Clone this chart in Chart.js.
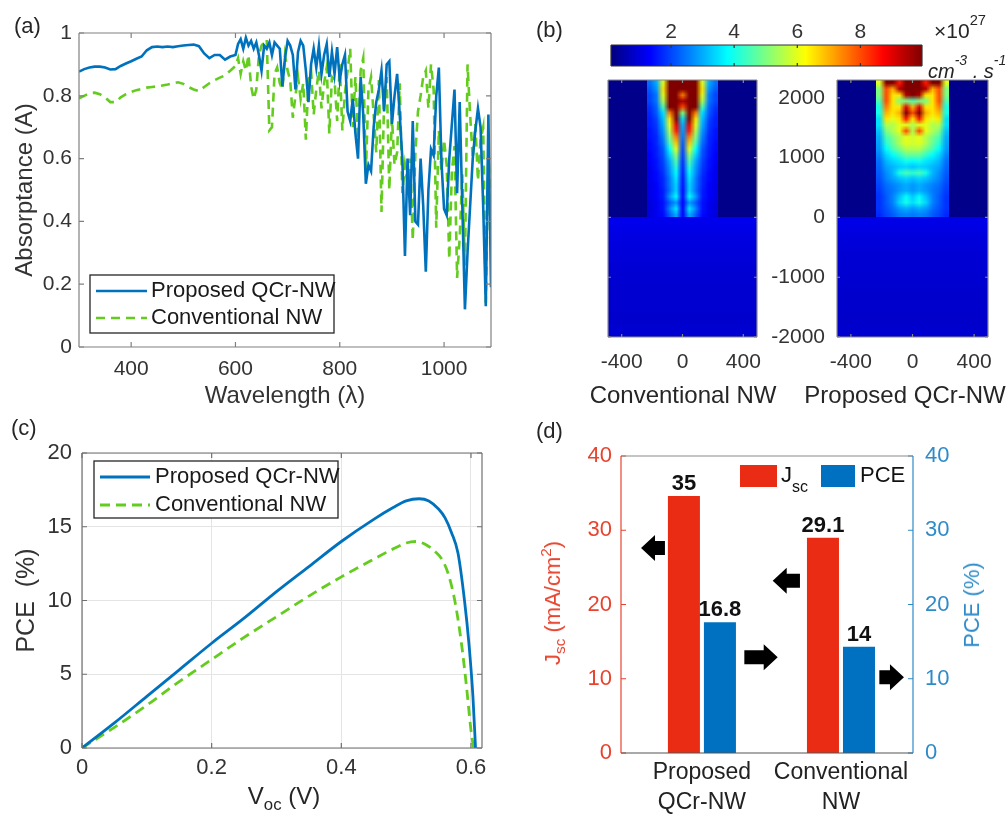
<!DOCTYPE html>
<html>
<head>
<meta charset="utf-8">
<script src="https://cdn.jsdelivr.net/npm/chart.js@4.4.1/dist/chart.umd.min.js"></script>
<style>
  body { margin: 0; background: #fff; }
  #fig { position: relative; width: 1008px; height: 815px; overflow: hidden;
         font-family: "Liberation Sans", Arial, sans-serif; color: #262626; }
  canvas { position: absolute; }
  .t { position: absolute; white-space: nowrap; line-height: 1; }
  .c { transform: translate(-50%, -50%); }
  .r { transform: translate(-50%, -50%) rotate(-90deg); }
  sub, sup { font-size: 0.7em; line-height: 0; }
  sub { vertical-align: -0.35em; }
  sup { vertical-align: 0.9em; }
</style>
</head>
<body>
<div id="fig">
  <canvas id="cA" width="504" height="412" style="left:0;top:0"></canvas>
  <canvas id="cBar" width="448" height="80" style="left:560px;top:0"></canvas>
  <canvas id="cB1" width="220" height="410" style="left:560px;top:0"></canvas>
  <canvas id="cB2" width="248" height="410" style="left:760px;top:0"></canvas>
  <canvas id="cC" width="504" height="405" style="left:0;top:410px"></canvas>
  <canvas id="cD" width="488" height="405" style="left:520px;top:410px"></canvas>

  <div class="t" style="left:14px;top:15px;font-size:22px">(a)</div>
  <div class="t" style="left:536px;top:19px;font-size:22px">(b)</div>
  <div class="t" style="left:11px;top:417px;font-size:22px">(c)</div>
  <div class="t" style="left:536px;top:420px;font-size:22px">(d)</div>

  <div class="t" style="left:934px;top:20px;font-size:21px">&times;10<sup>27</sup></div>
  <div class="t" style="left:928px;top:60px;font-size:20px;font-style:italic">cm<sup>-3</sup> . s<sup>-1</sup></div>
  <div class="t c" style="left:683px;top:395px;font-size:24px">Conventional NW</div>
  <div class="t c" style="left:905px;top:395px;font-size:24px">Proposed QCr-NW</div>

  <div class="t c" style="left:284px;top:796px;font-size:24px">V<sub>oc</sub> (V)</div>

  <div class="t r" style="left:553px;top:603px;font-size:22px;color:#e8432e">J<sub>sc</sub> (mA/cm<sup style="vertical-align:0.6em">2</sup>)</div>
  <div class="t r" style="left:972px;top:605px;font-size:22px;color:#2e8bc9">PCE (%)</div>
</div>

<script>
const FONT = '"Liberation Sans", Arial, sans-serif';
Chart.defaults.font.family = FONT;
Chart.defaults.color = '#333';
Chart.defaults.animation = false;
Chart.defaults.responsive = false;
Chart.defaults.layout.autoPadding = false;
Chart.defaults.plugins.legend.display = false;
Chart.defaults.plugins.tooltip.enabled = false;

const BLUE = '#0072bd';
const GREEN = '#64cc1e';
const RED_BAR = '#ea2c14';
const BLUE_BAR = '#0070c0';

// ---------- (a) absorptance ----------
const wavelength = [300, 310, 320, 330, 340, 350, 360, 370, 380, 390, 400, 410, 420, 430, 440, 450, 460, 470, 480, 490,
  500, 510, 520, 530, 540, 550, 560, 570, 580, 590, 600,
  605, 610, 615, 620, 625, 630, 635, 640, 645, 650, 655, 660, 665, 670, 675, 680, 685, 690, 695, 700,
  705, 710, 715, 720, 725, 730, 735, 740, 745, 750, 755, 760, 765, 770, 775, 780, 785, 790, 795, 800,
  805, 810, 815, 820, 825, 830, 835, 840, 845, 850, 855, 860, 865, 870, 875, 880, 885, 890, 895, 900,
  905, 910, 915, 920, 925, 930, 935, 940, 945, 950, 955, 960, 965, 970, 975, 980, 985, 990, 995, 1000,
  1005, 1010, 1015, 1020, 1025, 1030, 1035, 1040, 1045, 1050, 1055, 1060, 1065, 1070, 1075, 1080, 1085, 1090];
const absProposed = [0.877, 0.885, 0.89, 0.893, 0.893, 0.89, 0.884, 0.885, 0.895, 0.903, 0.91, 0.918, 0.925, 0.945, 0.955,
  0.957, 0.955, 0.957, 0.955, 0.958, 0.96, 0.962, 0.963, 0.958, 0.935, 0.92, 0.93, 0.93, 0.915, 0.925, 0.93,
  0.965, 0.98, 0.95, 0.985, 0.96, 0.975, 0.95, 0.97, 0.93, 0.88, 0.96, 0.95, 0.97, 0.93, 0.97, 0.96, 0.95, 0.83, 0.92, 0.975,
  0.96, 0.93, 0.82, 0.94, 0.975, 0.96, 0.88, 0.78, 0.9, 0.95, 0.89, 0.96, 0.87, 0.93, 0.965, 0.86, 0.94, 0.87, 0.955, 0.85,
  0.9, 0.93, 0.75, 0.72, 0.79, 0.68, 0.60, 0.86, 0.74, 0.52, 0.58, 0.56, 0.70, 0.78, 0.82, 0.88, 0.75, 0.90, 0.91, 0.71,
  0.80, 0.87, 0.74, 0.60, 0.29, 0.60, 0.42, 0.72, 0.40, 0.39, 0.60, 0.45, 0.24, 0.50, 0.63, 0.61, 0.80, 0.89, 0.59, 0.44,
  0.42, 0.60, 0.71, 0.82, 0.49, 0.78, 0.45, 0.12, 0.30, 0.45, 0.60, 0.69, 0.76, 0.70, 0.45, 0.13, 0.74, 0.19];
const absConventional = [0.792, 0.80, 0.808, 0.81, 0.805, 0.795, 0.78, 0.78, 0.795, 0.805, 0.812, 0.818, 0.822, 0.826, 0.828,
  0.83, 0.833, 0.836, 0.84, 0.843, 0.838, 0.828, 0.82, 0.815, 0.828, 0.84, 0.85, 0.858, 0.865, 0.88, 0.895,
  0.92, 0.87, 0.91, 0.88, 0.93, 0.83, 0.79, 0.82, 0.93, 0.96, 0.97, 0.98, 0.69, 0.70, 0.87, 0.89, 0.84, 0.82, 0.93, 0.88,
  0.85, 0.73, 0.80, 0.86, 0.79, 0.84, 0.66, 0.85, 0.88, 0.74, 0.82, 0.88, 0.76, 0.84, 0.89, 0.68, 0.86, 0.85, 0.72, 0.90,
  0.69, 0.81, 0.88, 0.95, 0.70, 0.86, 0.66, 0.88, 0.92, 0.55, 0.82, 0.86, 0.74, 0.62, 0.85, 0.43, 0.78, 0.86, 0.50, 0.73,
  0.58, 0.62, 0.84, 0.49, 0.58, 0.52, 0.60, 0.34, 0.62, 0.75, 0.80, 0.86, 0.88, 0.76, 0.90, 0.82, 0.38, 0.69, 0.56, 0.66,
  0.58, 0.28, 0.56, 0.64, 0.22, 0.35, 0.55, 0.26, 0.90, 0.74, 0.60, 0.71, 0.53, 0.66, 0.70, 0.14, 0.62, 0.45];
const absXTicks = [400, 600, 800, 1000];
const absYTicks = [0, 0.2, 0.4, 0.6, 0.8, 1];

// ---------- (b) generation rate maps (x10^27 cm^-3 s^-1) ----------
const CMIN = 0.1, CMAX = 9.95;
const colorbarTicks = [2, 4, 6, 8];
const heatXTicks = [-400, 0, 400];
const heatYTicks = [-2000, -1000, 0, 1000, 2000];
const WIRE_HALF = 236, WIRE_TOP = 2300;
const airLevel = 0.2;
// wire rows from top (2250 nm) to bottom (50 nm), 11 columns from -215 to 215 nm
const convWire = [
  [2.4, 3.0, 6.0, 10, 10, 10, 10, 10, 6.0, 3.0, 2.4],
  [2.2, 2.8, 6.5, 10, 10, 10, 10, 10, 6.5, 2.8, 2.2],
  [2.0, 2.5, 6.0, 10, 10, 7.5, 10, 10, 6.0, 2.5, 2.0],
  [2.0, 2.5, 5.5, 10, 10, 9.5, 10, 10, 5.5, 2.5, 2.0],
  [1.8, 2.3, 4.5, 10, 10, 8.0, 10, 10, 4.5, 2.3, 1.8],
  [1.7, 2.2, 3.5, 7.5, 10, 5.0, 10, 7.5, 3.5, 2.2, 1.7],
  [1.6, 2.0, 3.2, 6.5, 10, 3.5, 10, 6.5, 3.2, 2.0, 1.6],
  [1.6, 1.9, 3.0, 6.0, 9.0, 3.0, 9.0, 6.0, 3.0, 1.9, 1.6],
  [1.5, 1.8, 2.8, 5.5, 8.5, 2.8, 8.5, 5.5, 2.8, 1.8, 1.5],
  [1.5, 1.7, 2.6, 5.0, 7.5, 2.5, 7.5, 5.0, 2.6, 1.7, 1.5],
  [1.4, 1.7, 2.4, 4.5, 6.8, 2.2, 6.8, 4.5, 2.4, 1.7, 1.4],
  [1.4, 1.6, 2.2, 3.8, 6.0, 2.0, 6.0, 3.8, 2.2, 1.6, 1.4],
  [1.3, 1.6, 2.1, 3.4, 5.2, 1.9, 5.2, 3.4, 2.1, 1.6, 1.3],
  [1.3, 1.5, 2.0, 3.0, 4.6, 1.8, 4.6, 3.0, 2.0, 1.5, 1.3],
  [1.2, 1.5, 1.9, 2.8, 4.2, 1.7, 4.2, 2.8, 1.9, 1.5, 1.2],
  [1.2, 1.4, 1.8, 2.7, 3.8, 1.6, 3.8, 2.7, 1.8, 1.4, 1.2],
  [1.2, 1.4, 1.7, 2.5, 3.6, 1.5, 3.6, 2.5, 1.7, 1.4, 1.2],
  [1.1, 1.3, 1.7, 2.5, 3.4, 1.5, 3.4, 2.5, 1.7, 1.3, 1.1],
  [1.1, 1.3, 1.6, 2.4, 3.4, 1.4, 3.4, 2.4, 1.6, 1.3, 1.1],
  [1.1, 1.3, 1.6, 2.8, 3.8, 1.4, 3.8, 2.8, 1.6, 1.3, 1.1],
  [1.0, 1.2, 1.5, 2.2, 2.8, 1.3, 2.8, 2.2, 1.5, 1.2, 1.0],
  [1.0, 1.2, 1.5, 2.6, 3.6, 1.3, 3.6, 2.6, 1.5, 1.2, 1.0],
  [1.0, 1.2, 1.4, 2.2, 3.0, 1.3, 3.0, 2.2, 1.4, 1.2, 1.0]
];
const propWire = [
  [6.0, 10, 10, 8.5, 10, 10, 10, 8.5, 10, 10, 6.0],
  [5.0, 8.0, 7.0, 9.5, 10, 10, 10, 9.5, 7.0, 8.0, 5.0],
  [5.0, 8.0, 6.5, 6.5, 9.5, 10, 9.5, 6.5, 6.5, 8.0, 5.0],
  [4.5, 8.0, 6.5, 5.0, 5.0, 4.5, 5.0, 5.0, 6.5, 8.0, 4.5],
  [4.0, 7.5, 6.5, 6.5, 9.0, 7.0, 9.0, 6.5, 6.5, 7.5, 4.0],
  [4.0, 7.0, 6.5, 7.0, 10, 8.0, 10, 7.0, 6.5, 7.0, 4.0],
  [3.5, 6.5, 6.0, 6.5, 8.5, 6.5, 8.5, 6.5, 6.0, 6.5, 3.5],
  [3.5, 5.5, 5.5, 6.0, 6.0, 5.5, 6.0, 6.0, 5.5, 5.5, 3.5],
  [3.2, 5.0, 5.5, 6.0, 8.0, 5.5, 8.0, 6.0, 5.5, 5.0, 3.2],
  [3.0, 4.5, 5.0, 5.5, 6.0, 5.8, 6.0, 5.5, 5.0, 4.5, 3.0],
  [2.9, 4.2, 4.8, 5.5, 6.0, 5.8, 6.0, 5.5, 4.8, 4.2, 2.9],
  [2.8, 3.8, 4.5, 5.0, 5.5, 5.5, 5.5, 5.0, 4.5, 3.8, 2.8],
  [2.6, 3.4, 3.8, 4.3, 4.8, 4.8, 4.8, 4.3, 3.8, 3.4, 2.6],
  [2.4, 3.1, 3.4, 3.6, 4.0, 3.8, 4.0, 3.6, 3.4, 3.1, 2.4],
  [2.3, 2.9, 3.1, 3.3, 3.4, 3.2, 3.4, 3.3, 3.1, 2.9, 2.3],
  [2.2, 2.7, 3.1, 4.0, 4.5, 4.2, 4.5, 4.0, 3.1, 2.7, 2.2],
  [2.1, 2.6, 2.9, 3.2, 3.4, 3.2, 3.4, 3.2, 2.9, 2.6, 2.1],
  [2.0, 2.4, 2.6, 2.8, 3.0, 2.8, 3.0, 2.8, 2.6, 2.4, 2.0],
  [1.9, 2.3, 2.5, 2.8, 3.0, 2.8, 3.0, 2.8, 2.5, 2.3, 1.9],
  [1.8, 2.2, 2.6, 3.2, 3.8, 3.3, 3.8, 3.2, 2.6, 2.2, 1.8],
  [1.8, 2.2, 2.6, 3.4, 4.0, 3.5, 4.0, 3.4, 2.6, 2.2, 1.8],
  [1.8, 2.1, 2.4, 2.8, 3.0, 2.8, 3.0, 2.8, 2.4, 2.1, 1.8],
  [1.7, 2.0, 2.2, 2.5, 2.6, 2.5, 2.6, 2.5, 2.2, 2.0, 1.7]
];
// substrate rows from 0 nm down to -2000 nm, 200 nm each
const convSubstrate = [1.15, 1.05, 1.0, 0.95, 0.92, 0.9, 0.88, 0.88, 0.85, 0.9];
const propSubstrate = [1.1, 1.0, 0.95, 0.92, 0.9, 0.88, 0.85, 0.85, 0.82, 0.88];

// ---------- (c) PCE vs voltage ----------
const vProposed = [0, 0.05, 0.1, 0.15, 0.2, 0.25, 0.3, 0.35, 0.4, 0.45, 0.48, 0.5, 0.52, 0.535, 0.55, 0.56, 0.57, 0.58, 0.59, 0.597, 0.603, 0.607];
const pceProposed = [0, 1.7, 3.5, 5.3, 7.1, 8.8, 10.6, 12.3, 14.0, 15.5, 16.3, 16.75, 16.9, 16.75, 16.2, 15.6, 14.6, 13.2, 10.0, 7.0, 3.5, 0];
const vConventional = [0, 0.05, 0.1, 0.15, 0.2, 0.25, 0.3, 0.35, 0.4, 0.45, 0.48, 0.5, 0.515, 0.53, 0.545, 0.555, 0.565, 0.575, 0.585, 0.593, 0.6, 0.604];
const pceConventional = [0, 1.4, 2.9, 4.5, 6.0, 7.5, 8.9, 10.3, 11.6, 12.8, 13.5, 13.9, 14.0, 13.8, 13.3, 12.8, 11.8, 10.0, 7.2, 4.2, 1.2, 0];
const pceXTicks = [0, 0.2, 0.4, 0.6];
const pceYTicks = [0, 5, 10, 15, 20];

// ---------- (d) Jsc and PCE bars ----------
const devices = [['Proposed', 'QCr-NW'], ['Conventional', 'NW']];
const jscBar = [34.6, 29.0];
const pceBar = [17.6, 14.3];
const jscText = ['35', '29.1'];
const pceText = ['16.8', '14'];
const barYTicks = [0, 10, 20, 30, 40];
// arrows pointing at the axis each bar belongs to (x in group units, y in axis units)
const arrowMarks = [
  { from: -0.266, to: -0.438, at: 27.6, axis: 'y' },
  { from: 0.705, to: 0.509, at: 23.2, axis: 'y' },
  { from: 0.305, to: 0.545, at: 12.9, axis: 'y1' },
  { from: 1.276, to: 1.453, at: 10.2, axis: 'y1' }
];

// ---------- helpers ----------
const setTicks = list => s => { s.ticks = list.map(v => ({ value: v })); };
const noGrid = { display: false, drawTicks: false };

function jetAt(t) {
  t = Math.min(1, Math.max(0, t));
  const c = k => Math.round(255 * Math.min(1, Math.max(0, 1.5 - Math.abs(4 * t - k))));
  return [c(3), c(2), c(1)];
}
const levelColor = v => jetAt((v - CMIN) / (CMAX - CMIN));

function gridCanvas(rows) {
  const h = rows.length, w = rows[0].length;
  const cv = document.createElement('canvas');
  cv.width = w; cv.height = h;
  const g = cv.getContext('2d');
  const img = g.createImageData(w, h);
  rows.forEach((row, r) => row.forEach((v, c) => {
    const [R, G, B] = levelColor(v);
    const k = 4 * (r * w + c);
    img.data[k] = R; img.data[k + 1] = G; img.data[k + 2] = B; img.data[k + 3] = 255;
  }));
  g.putImageData(img, 0, 0);
  return cv;
}

function frame(cfg) {
  return {
    id: 'frame',
    afterDatasetsDraw(chart) {
      const { ctx, chartArea: a } = chart;
      const L = cfg.tickLen;
      ctx.save();
      ctx.lineWidth = cfg.lineWidth || 1.2;
      (cfg.marks || []).forEach(m => {
        const s = chart.scales[m.scale];
        ctx.strokeStyle = m.color;
        ctx.beginPath();
        s.ticks.forEach(t => {
          const p = s.getPixelForValue(t.value);
          m.sides.forEach(side => {
            if (side === 'bottom') { ctx.moveTo(p, a.bottom); ctx.lineTo(p, a.bottom - L); }
            if (side === 'top') { ctx.moveTo(p, a.top); ctx.lineTo(p, a.top + L); }
            if (side === 'left') { ctx.moveTo(a.left, p); ctx.lineTo(a.left + L, p); }
            if (side === 'right') { ctx.moveTo(a.right, p); ctx.lineTo(a.right - L, p); }
          });
        });
        ctx.stroke();
      });
      const e = cfg.edges;
      const edge = (c, x0, y0, x1, y1) => {
        ctx.strokeStyle = c; ctx.beginPath(); ctx.moveTo(x0, y0); ctx.lineTo(x1, y1); ctx.stroke();
      };
      edge(e.top, a.left, a.top, a.right, a.top);
      edge(e.bottom, a.left, a.bottom, a.right, a.bottom);
      edge(e.left, a.left, a.top, a.left, a.bottom);
      edge(e.right, a.right, a.top, a.right, a.bottom);
      ctx.restore();
    }
  };
}

function boxLegend(cfg) {
  return {
    id: 'boxLegend',
    afterDraw(chart) {
      const { ctx } = chart;
      ctx.save();
      ctx.fillStyle = '#fff';
      ctx.fillRect(cfg.x, cfg.y, cfg.w, cfg.h);
      ctx.strokeStyle = '#262626';
      ctx.lineWidth = 1.3;
      ctx.strokeRect(cfg.x, cfg.y, cfg.w, cfg.h);
      chart.data.datasets.forEach((ds, i) => {
        const y = cfg.rows[i];
        ctx.strokeStyle = ds.borderColor;
        ctx.lineWidth = ds.borderWidth;
        ctx.setLineDash(ds.borderDash || []);
        ctx.beginPath(); ctx.moveTo(cfg.line[0], y); ctx.lineTo(cfg.line[1], y); ctx.stroke();
        ctx.setLineDash([]);
        ctx.fillStyle = '#1a1a1a';
        ctx.font = '22px ' + FONT;
        ctx.textBaseline = 'middle';
        ctx.fillText(ds.label, cfg.textX, y);
      });
      ctx.restore();
    }
  };
}

function heatLayer(wire, substrate) {
  return {
    id: 'heatLayer',
    beforeDatasetsDraw(chart) {
      const { ctx, chartArea: a, scales: { x, y } } = chart;
      const px = v => x.getPixelForValue(v), py = v => y.getPixelForValue(v);
      ctx.save();
      ctx.beginPath(); ctx.rect(a.left, a.top, a.width, a.height); ctx.clip();
      ctx.fillStyle = 'rgb(' + levelColor(airLevel) + ')';
      ctx.fillRect(a.left, a.top, a.width, py(0) - a.top);
      ctx.imageSmoothingEnabled = true;
      ctx.imageSmoothingQuality = 'low';
      ctx.drawImage(gridCanvas(substrate.map(v => [v])), a.left, py(0), a.width, py(y.min) - py(0));
      ctx.drawImage(gridCanvas(wire), px(-WIRE_HALF), py(WIRE_TOP),
        px(WIRE_HALF) - px(-WIRE_HALF), py(0) - py(WIRE_TOP));
      ctx.restore();
    }
  };
}

const tickFont = size => ({ size: size });

// ---------- (a) ----------
new Chart(document.getElementById('cA'), {
  type: 'line',
  data: {
    datasets: [
      { label: 'Proposed QCr-NW', data: wavelength.map((x, i) => ({ x, y: absProposed[i] })),
        borderColor: BLUE, borderWidth: 2.6, pointRadius: 0, tension: 0 },
      { label: 'Conventional NW', data: wavelength.map((x, i) => ({ x, y: absConventional[i] })),
        borderColor: GREEN, borderWidth: 2.6, borderDash: [9, 6], pointRadius: 0, tension: 0 }
    ]
  },
  options: {
    layout: { padding: { top: 33, right: 13, left: 0, bottom: 0 } },
    scales: {
      x: {
        type: 'linear', min: 300, max: 1090,
        afterBuildTicks: setTicks(absXTicks),
        afterFit: s => { s.height = 65; },
        grid: noGrid, border: { display: false },
        ticks: { font: tickFont(21), padding: 10, color: '#333', maxRotation: 0, autoSkip: false, callback: v => String(v) },
        title: { display: true, text: 'Wavelength (\u03bb)', font: { size: 24 }, color: '#333', padding: { top: 0, bottom: 1.6 } }
      },
      y: {
        min: 0, max: 1,
        afterBuildTicks: setTicks(absYTicks),
        afterFit: s => { s.width = 79; },
        grid: noGrid, border: { display: false },
        ticks: { font: tickFont(21), padding: 7, color: '#333', callback: v => String(v) },
        title: { display: true, text: 'Absorptance (A)', font: { size: 24 }, color: '#333', padding: { top: 10.6, bottom: 0 } }
      }
    }
  },
  plugins: [
    frame({ tickLen: 5, edges: { top: '#808080', bottom: '#808080', left: '#808080', right: '#808080' },
      marks: [{ scale: 'x', sides: ['bottom', 'top'], color: '#808080' }, { scale: 'y', sides: ['left', 'right'], color: '#808080' }] }),
    boxLegend({ x: 90, y: 275, w: 244, h: 58, rows: [291, 318], line: [96, 147], textX: 151 })
  ]
});

// ---------- (b) colorbar ----------
new Chart(document.getElementById('cBar'), {
  type: 'scatter',
  data: { datasets: [] },
  options: {
    layout: { padding: { top: 0, left: 51, right: 86, bottom: 14 } },
    scales: {
      x: {
        type: 'linear', position: 'top', min: CMIN, max: CMAX,
        afterBuildTicks: setTicks(colorbarTicks),
        afterFit: s => { s.height = 45; },
        grid: noGrid, border: { display: false },
        ticks: { font: tickFont(21), padding: 0.4, color: '#333', maxRotation: 0, callback: v => String(v) }
      },
      y: { display: false, min: 0, max: 1 }
    }
  },
  plugins: [
    {
      id: 'colorbar',
      beforeDatasetsDraw(chart) {
        const { ctx, chartArea: a, scales: { x } } = chart;
        const x0 = x.getPixelForValue(CMIN), x1 = x.getPixelForValue(CMAX);
        const g = ctx.createLinearGradient(x0, 0, x1, 0);
        [0, 0.125, 0.375, 0.625, 0.875, 1].forEach(t => g.addColorStop(t, 'rgb(' + jetAt(t) + ')'));
        ctx.fillStyle = g;
        ctx.fillRect(a.left, a.top, a.width, a.height);
      }
    },
    frame({ tickLen: 3, lineWidth: 1.2, edges: { top: '#333', bottom: '#333', left: '#333', right: '#333' },
      marks: [{ scale: 'x', sides: ['bottom', 'top'], color: '#333' }] })
  ]
});

// ---------- (b) maps ----------
function heatChart(id, wire, substrate, pad, yWidth) {
  return new Chart(document.getElementById(id), {
    type: 'scatter',
    data: { datasets: [] },
    options: {
      layout: { padding: pad },
      scales: {
        x: {
          type: 'linear', min: -490, max: 490,
          afterBuildTicks: setTicks(heatXTicks),
          afterFit: s => { s.height = 73; },
          grid: noGrid, border: { display: false },
          ticks: { font: tickFont(21), padding: 12.4, color: '#333', maxRotation: 0, autoSkip: false, callback: v => String(v) }
        },
        y: {
          type: 'linear', min: -2000, max: 2300,
          afterBuildTicks: setTicks(heatYTicks),
          afterFit: s => { s.width = yWidth; },
          grid: noGrid, border: { display: false },
          ticks: { display: yWidth > 0, font: tickFont(21), padding: 12, color: '#333', callback: v => String(v) }
        }
      }
    },
    plugins: [
      heatLayer(wire, substrate),
      frame({ tickLen: 3, lineWidth: 1.2, edges: { top: '#8a8a8a', bottom: '#8a8a8a', left: '#8a8a8a', right: '#8a8a8a' },
        marks: [{ scale: 'x', sides: ['bottom', 'top'], color: '#8a8a8a' }, { scale: 'y', sides: ['left', 'right'], color: '#8a8a8a' }] })
    ]
  });
}
heatChart('cB1', convWire, convSubstrate, { top: 80, left: 48, right: 23, bottom: 0 }, 0);
heatChart('cB2', propWire, propSubstrate, { top: 80, left: 0, right: 20, bottom: 0 }, 77);

// ---------- (c) ----------
new Chart(document.getElementById('cC'), {
  type: 'line',
  data: {
    datasets: [
      { label: 'Proposed QCr-NW', data: vProposed.map((x, i) => ({ x, y: pceProposed[i] })),
        borderColor: BLUE, borderWidth: 2.8, pointRadius: 0, cubicInterpolationMode: 'monotone' },
      { label: 'Conventional NW', data: vConventional.map((x, i) => ({ x, y: pceConventional[i] })),
        borderColor: GREEN, borderWidth: 2.8, borderDash: [10, 6], pointRadius: 0, cubicInterpolationMode: 'monotone' }
    ]
  },
  options: {
    layout: { padding: { top: 43, right: 22, left: 0, bottom: 0 } },
    scales: {
      x: {
        type: 'linear', min: 0, max: 0.617,
        afterBuildTicks: setTicks(pceXTicks),
        afterFit: s => { s.height = 67; },
        grid: { color: '#e4e4e4', drawTicks: false }, border: { display: false },
        ticks: { font: tickFont(22), padding: 6.8, color: '#333', maxRotation: 0, autoSkip: false, callback: v => String(v) }
      },
      y: {
        min: 0, max: 20,
        afterBuildTicks: setTicks(pceYTicks),
        afterFit: s => { s.width = 82; },
        grid: { color: '#e4e4e4', drawTicks: false }, border: { display: false },
        ticks: { font: tickFont(22), padding: 10, color: '#333', callback: v => String(v) },
        title: { display: true, text: 'PCE  (%)', font: { size: 25 }, color: '#333', padding: { top: 12, bottom: 0 } }
      }
    }
  },
  plugins: [
    frame({ tickLen: 5, edges: { top: '#707070', bottom: '#707070', left: '#707070', right: '#707070' },
      marks: [{ scale: 'x', sides: ['bottom', 'top'], color: '#707070' }, { scale: 'y', sides: ['left', 'right'], color: '#707070' }] }),
    boxLegend({ x: 94, y: 51, w: 244, h: 57, rows: [67, 95], line: [100, 150], textX: 155 })
  ]
});

// ---------- (d) ----------
new Chart(document.getElementById('cD'), {
  type: 'bar',
  data: {
    datasets: [
      { label: 'Jsc', data: jscBar.map((y, i) => ({ x: i, y })), yAxisID: 'y',
        backgroundColor: RED_BAR, categoryPercentage: 0.518, barPercentage: 0.889 },
      { label: 'PCE', data: pceBar.map((y, i) => ({ x: i, y })), yAxisID: 'y1',
        backgroundColor: BLUE_BAR, categoryPercentage: 0.518, barPercentage: 0.889 }
    ]
  },
  options: {
    layout: { padding: { top: 46, right: 0, left: 0, bottom: 0 } },
    scales: {
      x: {
        type: 'linear', min: -0.582, max: 1.518, offset: false,
        afterBuildTicks: setTicks([0, 1]),
        afterFit: s => { s.height = 62; },
        grid: noGrid, border: { display: false },
        ticks: { font: { size: 23, lineHeight: 1.3 }, padding: 5, color: '#222', maxRotation: 0, minRotation: 0,
          autoSkip: false, callback: v => devices[v] }
      },
      y: {
        position: 'left', min: 0, max: 40,
        afterBuildTicks: setTicks(barYTicks),
        afterFit: s => { s.width = 101; },
        grid: noGrid, border: { display: false },
        ticks: { font: tickFont(22), padding: 9, color: '#e8432e', callback: v => String(v) }
      },
      y1: {
        position: 'right', min: 0, max: 40,
        afterBuildTicks: setTicks(barYTicks),
        afterFit: s => { s.width = 95; },
        grid: noGrid, border: { display: false },
        ticks: { font: tickFont(22), padding: 12, color: '#2e8bc9', callback: v => String(v) }
      }
    }
  },
  plugins: [
    frame({ tickLen: 5, edges: { top: '#8a8a8a', bottom: '#555', left: '#e8432e', right: '#2e8bc9' },
      marks: [{ scale: 'y', sides: ['left'], color: '#e8432e' }, { scale: 'y1', sides: ['right'], color: '#2e8bc9' }] }),
    {
      id: 'barDecor',
      afterDatasetsDraw(chart) {
        const { ctx, scales } = chart;
        ctx.save();
        ctx.font = 'bold 22px ' + FONT;
        ctx.fillStyle = '#111';
        ctx.textAlign = 'center';
        ctx.textBaseline = 'alphabetic';
        [jscText, pceText].forEach((texts, i) => {
          chart.getDatasetMeta(i).data.forEach((bar, j) => ctx.fillText(texts[j], bar.x, bar.y - 6));
        });
        ctx.fillStyle = '#000';
        arrowMarks.forEach(m => {
          const x0 = scales.x.getPixelForValue(m.from), x1 = scales.x.getPixelForValue(m.to);
          const y = scales[m.axis].getPixelForValue(m.at);
          const head = 14 * Math.sign(x1 - x0), hh = 13, sh = 7;
          ctx.beginPath();
          ctx.moveTo(x0, y - sh); ctx.lineTo(x1 - head, y - sh); ctx.lineTo(x1 - head, y - hh);
          ctx.lineTo(x1, y); ctx.lineTo(x1 - head, y + hh); ctx.lineTo(x1 - head, y + sh); ctx.lineTo(x0, y + sh);
          ctx.closePath(); ctx.fill();
        });
        // legend
        ctx.textAlign = 'left';
        ctx.textBaseline = 'middle';
        ctx.fillStyle = RED_BAR; ctx.fillRect(220, 55, 37, 22);
        ctx.fillStyle = BLUE_BAR; ctx.fillRect(301, 55, 34, 22);
        ctx.fillStyle = '#111';
        ctx.font = '22px ' + FONT;
        ctx.fillText('J', 261, 66);
        ctx.fillText('PCE', 340, 66);
        ctx.font = '16px ' + FONT;
        ctx.fillText('sc', 272, 78);
        ctx.restore();
      }
    }
  ]
});
</script>
</body>
</html>
